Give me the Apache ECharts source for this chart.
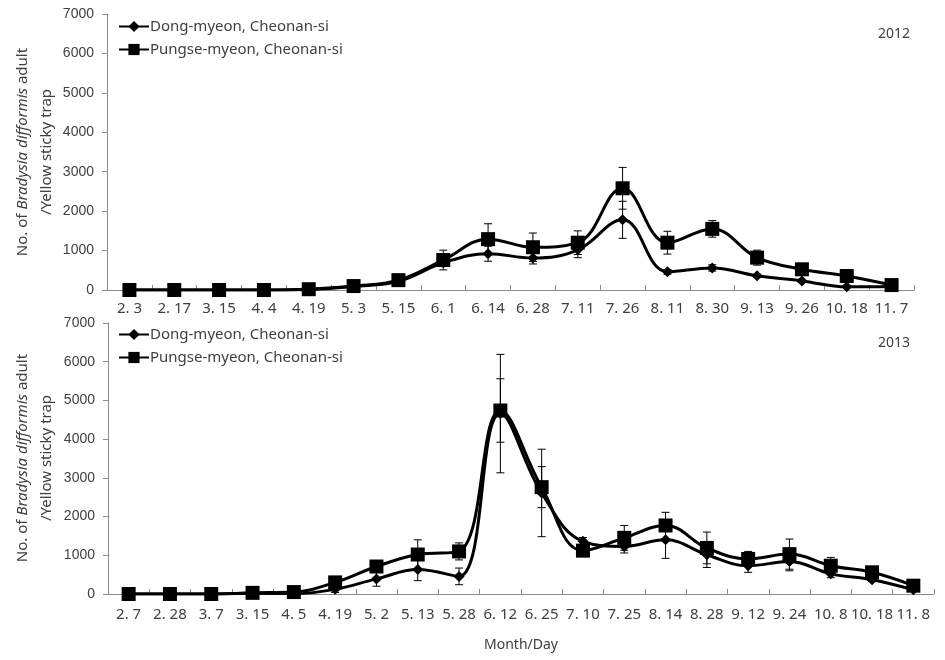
<!DOCTYPE html>
<html><head><meta charset="utf-8">
<script src="https://cdn.jsdelivr.net/npm/echarts@6/dist/echarts.min.js"></script>
<style>html,body{margin:0;padding:0;background:#fff}#c{width:945px;height:660px}</style>
</head><body><div id="c"></div>
<script>
const cats2012 = ['2. 3','2. 17','3. 15','4. 4','4. 19','5. 3','5. 15','6. 1','6. 14','6. 28','7. 11','7. 26','8. 11','8. 30','9. 13','9. 26','10. 18','11. 7'];
const dong2012 = [0,0,0,0,15,90,220,690,920,810,1020,1780,460,560,360,230,80,90];
const pungse2012 = [0,0,0,0,20,100,250,760,1290,1085,1200,2580,1200,1550,820,525,355,125];
const dongErr2012 = [0,0,0,0,0,20,40,60,190,150,200,470,60,80,40,40,20,10];
const pungseErr2012 = [0,0,0,0,0,20,40,250,390,360,300,530,290,210,190,60,40,20];

const cats2013 = ['2. 7','2. 28','3. 7','3. 15','4. 5','4. 19','5. 2','5. 13','5. 28','6. 12','6. 25','7. 10','7. 25','8. 14','8. 28','9. 12','9. 24','10. 8','10. 18','11. 8'];
const dong2013 = [0,0,0,20,10,120,390,630,455,4660,2610,1360,1230,1400,1015,730,840,520,370,110];
const pungse2013 = [0,0,0,30,50,300,710,1020,1100,4740,2760,1120,1450,1770,1190,905,1030,730,560,215];
const dongErr2013 = [0,0,0,10,20,80,190,285,215,1530,1130,100,170,480,330,170,240,100,50,30];
const pungseErr2013 = [0,0,0,10,20,60,100,380,220,820,530,100,320,340,410,195,390,215,50,30];

const yTicks = [0,1000,2000,3000,4000,5000,6000,7000];
const nameDong = 'Dong-myeon, Cheonan-si';
const namePungse = 'Pungse-myeon, Cheonan-si';
const yTitle = '{a|No. of }{i|Bradysia difformis}{a| adult}\n{a|/Yellow sticky trap}';

const chart = echarts.init(document.getElementById('c'));
const txt = '#404040';
const axisCol = '#8c8c8c';

function xAxis(cats, gi, margin, extra) {
  return Object.assign({
    type: 'category', gridIndex: gi, data: cats, boundaryGap: true,
    axisLine: {lineStyle: {color: axisCol, width: 1}},
    axisTick: {show: true, inside: true, length: 5, lineStyle: {color: axisCol}},
    axisLabel: {color: txt, fontSize: 15, fontFamily: 'Noto Sans', margin: margin, interval: 0}
  }, extra || {});
}
function yAxis(gi) {
  return {
    type: 'value', gridIndex: gi, min: yTicks[0], max: yTicks[yTicks.length-1], interval: 1000,
    axisLine: {show: true, lineStyle: {color: axisCol}},
    axisTick: {show: true, length: 5, lineStyle: {color: axisCol}},
    splitLine: {show: false},
    axisLabel: {color: txt, fontSize: 14, fontFamily: 'Liberation Sans', margin: 13, formatter: v => String(v)}
  };
}
function line(name, data, gi, sym, size) {
  return {
    type: 'line', name: name, xAxisIndex: gi, yAxisIndex: gi, data: data,
    smooth: 0.4, symbol: sym, symbolSize: size, showAllSymbol: true,
    lineStyle: {color: '#000', width: 3}, itemStyle: {color: '#000'}, z: 3
  };
}
function errBars(vals, errs, gi) {
  return {
    type: 'custom', xAxisIndex: gi, yAxisIndex: gi, z: 2, silent: true,
    data: vals.map((v, i) => [i, v, errs[i]]),
    renderItem: function (params, api) {
      const i = api.value(0), v = api.value(1), e = api.value(2);
      if (!e) return null;
      const hi = api.coord([i, v + e]);
      const lo = api.coord([i, Math.max(0, v - e)]);
      const w = 4;
      const st = {stroke: '#000', lineWidth: 1};
      return {type: 'group', children: [
        {type: 'line', shape: {x1: hi[0], y1: hi[1], x2: lo[0], y2: lo[1]}, style: st},
        {type: 'line', shape: {x1: hi[0]-w, y1: hi[1], x2: hi[0]+w, y2: hi[1]}, style: st},
        {type: 'line', shape: {x1: lo[0]-w, y1: lo[1], x2: lo[0]+w, y2: lo[1]}, style: st}
      ]};
    }
  };
}
function legend(top) {
  return {
    left: 113, top: top, orient: 'vertical', itemGap: 8, itemWidth: 30, itemHeight: 14,
    textStyle: {color: txt, fontSize: 15, fontFamily: 'Noto Sans', padding: [0,0,0,-4]},
    data: [{name: nameDong}, {name: namePungse}]
  };
}
function titleText(x, y) {
  return {
    type: 'text', x: x, y: y, rotation: Math.PI / 2, silent: true,
    style: {
      text: yTitle, align: 'center', verticalAlign: 'middle', fill: txt,
      fontSize: 15, fontFamily: 'Noto Sans', lineHeight: 24,
      rich: {a: {fontSize: 15, fill: txt, fontFamily: 'Noto Sans', lineHeight: 24},
             i: {fontSize: 15, fill: txt, fontStyle: 'italic', fontFamily: 'Noto Sans', lineHeight: 24}}
    }
  };
}

chart.setOption({
  animation: false,
  backgroundColor: '#fff',
  title: [
    {text: '2012', right: 30, top: 22, textStyle: {color: txt, fontSize: 14, fontWeight: 'normal', fontFamily: 'Noto Sans'}},
    {text: '2013', right: 30, top: 331, textStyle: {color: txt, fontSize: 14, fontWeight: 'normal', fontFamily: 'Noto Sans'}}
  ],
  legend: [legend(14), legend(322)],
  graphic: [titleText(35, 152), titleText(35, 458)],
  grid: [
    {left: 107, top: 14, width: 807, height: 276},
    {left: 108, top: 323, width: 826, height: 271}
  ],
  xAxis: [
    xAxis(cats2012, 0, 11),
    xAxis(cats2013, 1, 13, {name: 'Month/Day', nameLocation: 'middle', nameGap: 44,
      nameTextStyle: {color: txt, fontSize: 14, fontFamily: 'Noto Sans'}})
  ],
  yAxis: [yAxis(0), yAxis(1)],
  series: [
    errBars(dong2012, dongErr2012, 0),
    errBars(pungse2012, pungseErr2012, 0),
    line(nameDong, dong2012, 0, 'diamond', 11),
    line(namePungse, pungse2012, 0, 'rect', 14),
    errBars(dong2013, dongErr2013, 1),
    errBars(pungse2013, pungseErr2013, 1),
    line(nameDong, dong2013, 1, 'diamond', 11),
    line(namePungse, pungse2013, 1, 'rect', 14)
  ]
});
</script></body></html>
